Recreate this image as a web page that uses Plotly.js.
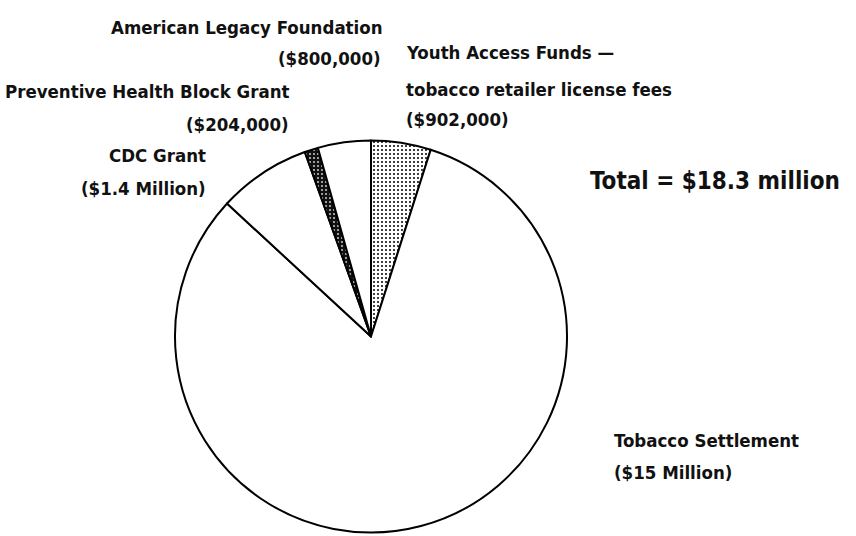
<!DOCTYPE html>
<html>
<head>
<meta charset="utf-8">
<script src="https://cdn.plot.ly/plotly-3.0.1.min.js"></script>
<style>html,body{margin:0;padding:0;background:#fff}#chart{width:856px;height:536px}</style>
</head>
<body>
<div id="chart"></div>
<script>
// Funding sources (in dollars), clockwise from 12 o'clock
const sources = ["Youth Access Funds — tobacco retailer license fees", "Tobacco Settlement", "CDC Grant", "Preventive Health Block Grant", "American Legacy Foundation"];
const amounts = [902000, 15000000, 1400000, 204000, 800000];
const amountLabels = ["($902,000)", "($15 Million)", "($1.4 Million)", "($204,000)", "($800,000)"];
const totalLabel = "Total = $18.3 million";

const FONT = '"DejaVu Sans Condensed", "Liberation Sans Narrow", sans-serif';

const trace = {
  type: 'pie',
  labels: sources,
  values: amounts,
  sort: false,
  direction: 'clockwise',
  rotation: 0,
  textinfo: 'none',
  hoverinfo: 'label+value',
  showlegend: false,
  domain: {x: [175/856, 567/856], y: [1 - 533/536, 1 - 140/536]},
  marker: {
    colors: ['#ffffff', '#ffffff', '#ffffff', '#1a1a1a', '#ffffff'],
    line: {color: '#000000', width: 2},
    pattern: {
      shape: ['.', '', '', '.', ''],
      fgcolor: ['#000000', '#000000', '#000000', '#cccccc', '#000000'],
      bgcolor: ['#ffffff', '#ffffff', '#ffffff', '#111111', '#ffffff'],
      size: 4,
      solidity: 0.2
    }
  }
};

function ann(text, x, y, anchor, size) {
  return {
    text: '<b>' + text + '</b>', x: x / 856, y: 1 - y / 536, xref: 'paper', yref: 'paper',
    xanchor: anchor, yanchor: 'middle', showarrow: false,
    font: {family: FONT, size: size || 18.5, color: '#111'}
  };
}

const annotations = [
  ann(sources[4], 385, 27, 'right'),
  ann(amountLabels[4], 383, 59, 'right'),
  ann(sources[3], 292, 92, 'right'),
  ann(amountLabels[3], 291, 124, 'right'),
  ann(sources[2], 208, 155, 'right'),
  ann(amountLabels[2], 208, 188, 'right'),
  ann("Youth Access Funds —", 404, 53, 'left'),
  ann("tobacco retailer license fees", 404, 89, 'left'),
  ann(amountLabels[0], 404, 120, 'left'),
  ann(sources[1], 612, 440, 'left'),
  ann(amountLabels[1], 612, 472, 'left'),
  ann(totalLabel, 588, 181, 'left', 24)
];

const layout = {
  width: 856, height: 536,
  margin: {l: 0, r: 0, t: 0, b: 0},
  paper_bgcolor: '#ffffff', plot_bgcolor: '#ffffff',
  annotations: annotations
};

Plotly.newPlot('chart', [trace], layout, {displayModeBar: false, staticPlot: true});
</script>
</body>
</html>
